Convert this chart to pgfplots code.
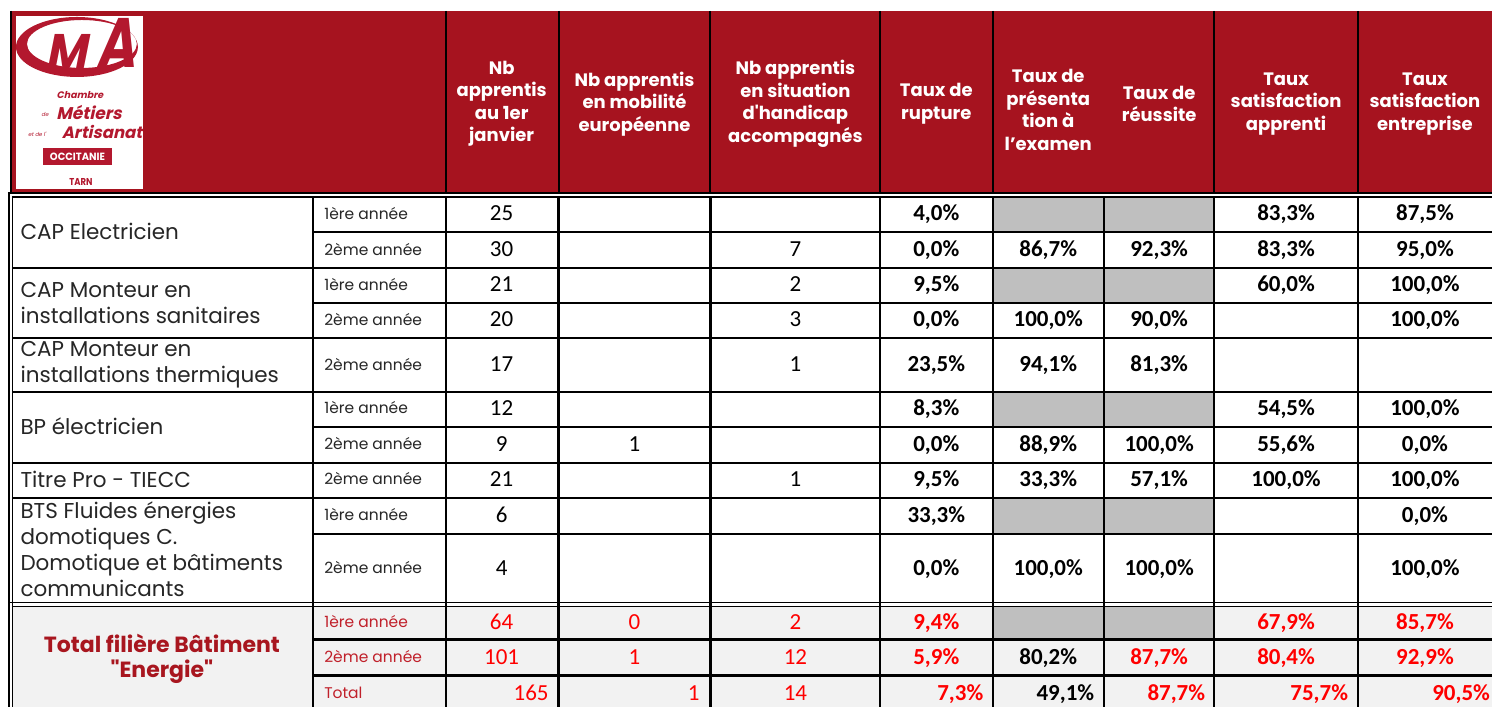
\documentclass[border=0pt]{standalone}
\usepackage{pgfplots}
\pgfplotsset{compat=1.18}
\usepackage{fontspec}
\setmainfont{Poppins}[Ligatures=TeXOff]
\newfontfamily\numfont{Carlito}
\newfontfamily\logofont[FakeSlant=0.22,Ligatures=TeXOff]{Poppins}
\definecolor{hdr}{HTML}{A6131F}
\definecolor{logored}{HTML}{B3182E}
\definecolor{grcell}{HTML}{BFBFBF}
\definecolor{totbg}{HTML}{F2F2F2}
\definecolor{totlab}{HTML}{A8161F}
\definecolor{redv}{HTML}{FF0000}
\definecolor{yrred}{HTML}{C0202A}
\newcommand{\cbox}[1]{\smash{\makebox[0pt][c]{\raisebox{-7.4pt}{#1}}}}
\newcommand{\rbox}[1]{\smash{\makebox[0pt][r]{\raisebox{-7.4pt}{#1}}}}
\newcommand{\pct}{\pgfmathprintnumber[fixed,fixed zerofill,precision=1,use comma,assume math mode=true]{\pgfplotspointmeta}\%}
\newcommand{\cnt}{\pgfmathprintnumber[fixed,precision=0,assume math mode=true]{\pgfplotspointmeta}}
\pgfplotsset{
  cellv/.style 2 args={only marks, mark=none, point meta=explicit,
    nodes near coords={#1},
    every node near coord/.append style={inner sep=0pt, outer sep=0pt, #2}},
}
\newcommand{\nfont}{\numfont\fontsize{23}{23}\selectfont}
\newcommand{\bfont}{\numfont\bfseries\fontsize{23}{23}\selectfont}
\begin{document}
\begin{tikzpicture}
\begin{axis}[width=1493pt,height=708pt,scale only axis,
  xmin=0,xmax=1493,ymin=0,ymax=708,y dir=reverse,hide axis,clip=false]
% background
\fill[white] (axis cs:0,0) rectangle (axis cs:1493,708);
\fill[hdr] (axis cs:11,11) rectangle (axis cs:1493,193);
\fill[totbg] (axis cs:12,607) rectangle (axis cs:1493,708);
% gray cells
\fill[grcell] (axis cs:994,197) rectangle (axis cs:1215,232);
\fill[grcell] (axis cs:994,268) rectangle (axis cs:1215,303);
\fill[grcell] (axis cs:994,392) rectangle (axis cs:1215,427);
\fill[grcell] (axis cs:994,498) rectangle (axis cs:1215,534);
\fill[grcell] (axis cs:994,607) rectangle (axis cs:1215,640);
% logo
\fill[white] (axis cs:16,16) rectangle (axis cs:143,189);
\fill[logored,even odd rule] (axis cs:77,47) ellipse [x radius=61, y radius=30]
   (axis cs:82,44) ellipse [x radius=55, y radius=24];
\node[text=logored, font=\logofont\bfseries\fontsize{50}{50}\selectfont, xscale=0.9] at (axis cs:66,52) {M};
\node[text=logored, font=\logofont\bfseries\fontsize{70}{70}\selectfont, xscale=0.75] at (axis cs:116,43) {A};
\node[text=logored, font=\logofont\bfseries\fontsize{9.5}{9.5}\selectfont] at (axis cs:80,95) {Chambre};
\node[text=logored, font=\logofont\fontsize{5.5}{5.5}\selectfont] at (axis cs:45,115) {de};
\node[text=logored, font=\logofont\bfseries\fontsize{17}{17}\selectfont] at (axis cs:89,113) {Métiers};
\node[text=logored, font=\logofont\fontsize{5.5}{5.5}\selectfont] at (axis cs:37,134) {et de l'};
\node[text=logored, font=\logofont\bfseries\fontsize{16.5}{16.5}\selectfont] at (axis cs:102,132) {Artisanat};
\fill[logored] (axis cs:43,148) rectangle (axis cs:112,165);
\node[text=white, font=\bfseries\fontsize{10.5}{10.5}\selectfont, xscale=0.95] at (axis cs:77.5,156.5) {OCCITANIE};
\node[text=logored, font=\bfseries\fontsize{10}{10}\selectfont, xscale=0.85] at (axis cs:81,182) {TARN};
% header lines
\pgfplotsinvokeforeach{446,559,711,881,994,1215,1359}{%
  \draw[black,line width=2pt] (axis cs:#1,11) -- (axis cs:#1,193);}
\draw[black,line width=1.2pt] (axis cs:11,11) -- (axis cs:11,193);
% double frame lines
\draw[black,line width=1.6pt] (axis cs:8,193) -- (axis cs:1493,193);
\draw[black,line width=1.6pt] (axis cs:12,197) -- (axis cs:1493,197);
\draw[black,line width=1.6pt] (axis cs:9,193) -- (axis cs:9,708);
\draw[black,line width=1.6pt] (axis cs:12.5,197) -- (axis cs:12.5,708);
\draw[black,line width=1.6pt] (axis cs:9,603) -- (axis cs:1493,603);
\draw[black,line width=1.6pt] (axis cs:12,607) -- (axis cs:1493,607);
% body verticals
\pgfplotsinvokeforeach{313,446,559,711,881,994,1105,1215,1359}{%
  \draw[black,line width=2.2pt] (axis cs:#1,197) -- (axis cs:#1,708);}
% body horizontals
\pgfplotsinvokeforeach{268,338,392,463,498}{%
  \draw[black,line width=2.2pt] (axis cs:12,#1) -- (axis cs:1493,#1);}
\pgfplotsinvokeforeach{232,303,427,534,640,676}{%
  \draw[black,line width=2.2pt] (axis cs:313,#1) -- (axis cs:1493,#1);}
% header text
\begin{scope}[every node/.style={text=white, align=center, font=\bfseries\fontsize{18}{22.5}\selectfont}]
\node at (axis cs:502,104) {Nb\\apprentis\\au 1er\\janvier};
\node at (axis cs:635,104) {Nb apprentis\\en mobilité\\européenne};
\node at (axis cs:796,104) {Nb apprentis\\en situation\\d'handicap\\accompagnés};
\node at (axis cs:937,104) {Taux de\\rupture};
\node at (axis cs:1049,110) {Taux de\\présenta\\tion à\\l’examen};
\node at (axis cs:1160,104) {Taux de\\réussite};
\node at (axis cs:1287,104) {Taux\\satisfaction\\apprenti};
\node at (axis cs:1426,104) {Taux\\satisfaction\\entreprise};
\end{scope}
% left labels
\begin{scope}[every node/.style={anchor=west, align=left, text=black!85, font=\fontsize{21.5}{26}\selectfont}]
\node at (axis cs:17,232) {CAP Electricien};
\node at (axis cs:17,303) {CAP Monteur en\\installations sanitaires};
\node at (axis cs:17,365) {CAP Monteur en\\installations thermiques};
\node at (axis cs:17,427) {BP électricien};
\node at (axis cs:17,480) {Titre Pro - TIECC};
\node at (axis cs:17,550) {BTS Fluides énergies\\domotiques C.\\Domotique et bâtiments\\communicants};
\end{scope}
\node[align=center, text=totlab, font=\bfseries\fontsize{22}{25}\selectfont] at (axis cs:162,659) {Total filière Bâtiment\\"Energie"};
% year labels
\begin{scope}[every node/.style={anchor=base west, yshift=-5.3pt, text=black!85, font=\fontsize{15.5}{15.5}\selectfont}]
\node at (axis cs:321,214) {1ère année};
\node at (axis cs:321,250) {2ème année};
\node at (axis cs:321,285) {1ère année};
\node at (axis cs:321,320) {2ème année};
\node at (axis cs:321,365) {2ème année};
\node at (axis cs:321,409) {1ère année};
\node at (axis cs:321,445) {2ème année};
\node at (axis cs:321,480) {2ème année};
\node at (axis cs:321,516) {1ère année};
\node at (axis cs:321,569) {2ème année};
\node[text=yrred] at (axis cs:321,623) {1ère année};
\node[text=yrred] at (axis cs:321,658) {2ème année};
\node[text=yrred] at (axis cs:321,694) {Total};
\end{scope}
% counts, black
\addplot[cellv={\cbox{\cnt}}{font=\nfont, text=black}] table[meta=v] {
x y v
502 214 25
502 250 30
502 285 21
502 320 20
502 365 17
502 409 12
502 445 9
502 480 21
502 516 6
502 569 4
635 445 1
796 250 7
796 285 2
796 320 3
796 365 1
796 480 1
};
% percentages, black bold
\addplot[cellv={\cbox{\pct}}{font=\bfont, text=black}] table[meta=v] {
x y v
937 214 4.0
937 250 0.0
937 285 9.5
937 320 0.0
937 365 23.5
937 409 8.3
937 445 0.0
937 480 9.5
937 516 33.3
937 569 0.0
1049 250 86.7
1049 320 100.0
1049 365 94.1
1049 445 88.9
1049 480 33.3
1049 569 100.0
1160 250 92.3
1160 320 90.0
1160 365 81.3
1160 445 100.0
1160 480 57.1
1160 569 100.0
1287 214 83.3
1287 250 83.3
1287 285 60.0
1287 409 54.5
1287 445 55.6
1287 480 100.0
1426 214 87.5
1426 250 95.0
1426 285 100.0
1426 320 100.0
1426 409 100.0
1426 445 0.0
1426 480 100.0
1426 516 0.0
1426 569 100.0
1049 658 80.2
};
% totals: counts red, centered
\addplot[cellv={\cbox{\cnt}}{font=\nfont, text=redv}] table[meta=v] {
x y v
502 623 64
635 623 0
796 623 2
502 658 101
635 658 1
796 658 12
796 694 14
};
% totals: counts red, right aligned
\addplot[cellv={\rbox{\cnt}}{font=\nfont, text=redv}] table[meta=v] {
x y v
549 694 165
700 694 1
};
% totals: percentages red bold, centered
\addplot[cellv={\cbox{\pct}}{font=\bfont, text=redv}] table[meta=v] {
x y v
937 623 9.4
1287 623 67.9
1426 623 85.7
937 658 5.9
1160 658 87.7
1287 658 80.4
1426 658 92.9
};
% totals: percentages red bold, right aligned
\addplot[cellv={\rbox{\pct}}{font=\bfont, text=redv}] table[meta=v] {
x y v
984 694 7.3
1206 694 87.7
1349 694 75.7
1491 694 90.5
};
% totals: percentage black bold, right aligned
\addplot[cellv={\rbox{\pct}}{font=\bfont, text=black}] table[meta=v] {
x y v
1095 694 49.1
};
\end{axis}
\end{tikzpicture}
\end{document}
